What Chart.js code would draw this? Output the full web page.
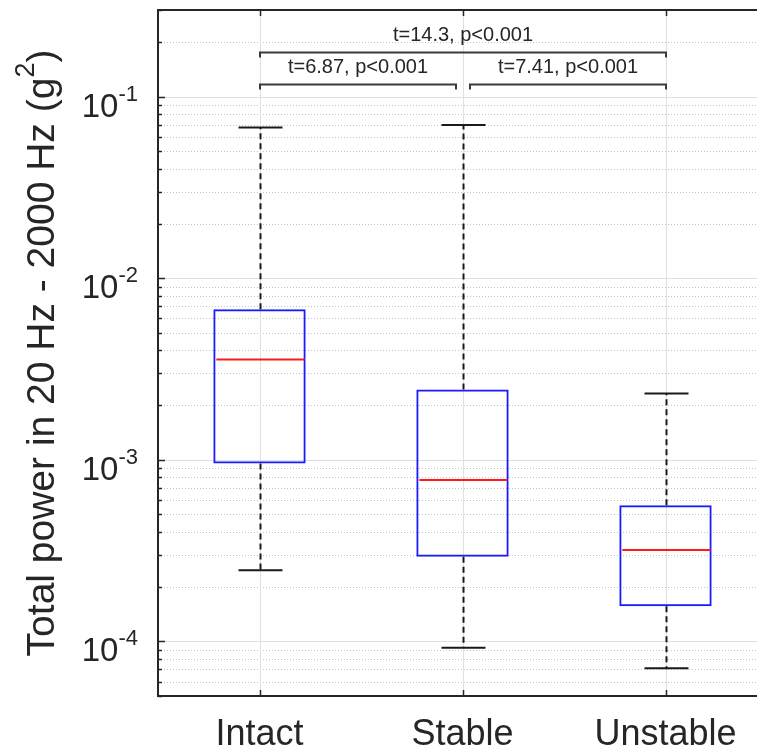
<!DOCTYPE html>
<html>
<head>
<meta charset="utf-8">
<script src="https://cdn.jsdelivr.net/npm/chart.js@4.4.0/dist/chart.umd.min.js"></script>
<style>
  html, body { margin: 0; padding: 0; background: #fff; overflow: hidden; }
  #wrap { width: 767px; height: 750px; }
</style>
</head>
<body>
<div id="wrap"><canvas id="myChart"></canvas></div>
<script>
// --- values (g^2) ---
const groups      = ['Intact', 'Stable', 'Unstable'];
const whiskerLow  = [0.000246, 0.0000923, 0.0000711];
const quartile1   = [0.000955, 0.000292, 0.000156];
const medians     = [0.00357, 0.000774, 0.000318];
const quartile3   = [0.00674, 0.00244, 0.000561];
const whiskerHigh = [0.0675, 0.0698, 0.00232];

// significance brackets
const bracketFrom  = [0, 1, 0];
const bracketTo    = [1, 2, 2];
const bracketLevel = [0.117, 0.117, 0.176];
const bracketText  = ['t=6.87, p<0.001', 't=7.41, p<0.001', 't=14.3, p<0.001'];

// axis
const yMin = 5e-5;
const yMax = 0.3;
const yDecades = [-4, -3, -2, -1];
const yTitleMain = 'Total power in 20 Hz - 2000 Hz (g';
const yTitleSup = '2';
const yTitleEnd = ')';

const INK = '#262626';
const FONT = '"Liberation Sans", Arial, Helvetica, sans-serif';

function seg(ctx, x1, y1, x2, y2) {
    ctx.beginPath();
    ctx.moveTo(x1, y1);
    ctx.lineTo(x2, y2);
    ctx.stroke();
}

// grid, whiskers, medians, brackets and the MATLAB-like axis labels
const boxPlotDecor = {
    id: 'boxPlotDecor',
    beforeDatasetsDraw(chart) {
        const { ctx, chartArea: a, scales: { x, y } } = chart;
        ctx.save();
        ctx.lineWidth = 1;

        // minor grid, dotted
        ctx.strokeStyle = '#c4c4c4';
        ctx.setLineDash([1, 2]);
        for (let e = -5; e <= -1; e++) {
            for (let m = 2; m <= 9; m++) {
                const v = m * Math.pow(10, e);
                if (v <= yMin * 1.001 || v >= yMax * 0.999) continue;
                const py = Math.round(y.getPixelForValue(v)) + 0.5;
                seg(ctx, a.left, py, a.right, py);
            }
        }

        // major grid, solid
        ctx.setLineDash([]);
        ctx.strokeStyle = '#e0e0e0';
        yDecades.forEach(e => {
            const py = Math.round(y.getPixelForValue(Math.pow(10, e))) + 0.5;
            seg(ctx, a.left, py, a.right, py);
        });
        groups.forEach((g, i) => {
            const px = Math.round(x.getPixelForValue(i)) + 0.5;
            seg(ctx, px, a.top, px, a.bottom);
        });
        ctx.restore();
    },
    afterDatasetsDraw(chart) {
        const { ctx, chartArea: a, scales: { x, y } } = chart;
        ctx.save();

        // whiskers
        groups.forEach((g, i) => {
            const px = Math.round(x.getPixelForValue(i)) + 0.5;
            const capHalf = 22;
            ctx.strokeStyle = '#1a1a1a';
            ctx.lineWidth = 2;
            ctx.setLineDash([6, 4]);
            seg(ctx, px, y.getPixelForValue(quartile3[i]), px, y.getPixelForValue(whiskerHigh[i]));
            seg(ctx, px, y.getPixelForValue(quartile1[i]), px, y.getPixelForValue(whiskerLow[i]));
            ctx.setLineDash([]);
            const hi = y.getPixelForValue(whiskerHigh[i]);
            const lo = y.getPixelForValue(whiskerLow[i]);
            seg(ctx, px - capHalf, hi, px + capHalf, hi);
            seg(ctx, px - capHalf, lo, px + capHalf, lo);

            // median
            const meta = chart.getDatasetMeta(0).data[i];
            const half = meta.width / 2 - 2;
            const my = y.getPixelForValue(medians[i]);
            ctx.strokeStyle = '#ff1a1a';
            ctx.lineWidth = 2;
            seg(ctx, px - half, my, px + half, my);
        });

        // top border and inward ticks
        ctx.strokeStyle = INK;
        ctx.lineWidth = 2;
        seg(ctx, a.left, a.top, a.right, a.top);
        ctx.lineWidth = 1.5;
        for (let e = -5; e <= -1; e++) {
            for (let m = 1; m <= 9; m++) {
                const v = m * Math.pow(10, e);
                if (v < yMin * 0.999 || v > yMax * 1.001) continue;
                const py = Math.round(y.getPixelForValue(v)) + 0.5;
                seg(ctx, a.left, py, a.left + (m === 1 ? 7 : 4), py);
            }
        }
        groups.forEach((g, i) => {
            const px = Math.round(x.getPixelForValue(i)) + 0.5;
            seg(ctx, px, a.bottom, px, a.bottom - 6);
            seg(ctx, px, a.top, px, a.top + 6);
        });

        // y tick labels 10^n
        ctx.fillStyle = INK;
        ctx.textBaseline = 'alphabetic';
        ctx.textAlign = 'left';
        yDecades.forEach(e => {
            const py = y.getPixelForValue(Math.pow(10, e));
            const expText = '-' + Math.abs(e);
            ctx.font = '22px ' + FONT;
            const ew = ctx.measureText(expText).width;
            ctx.font = '33px ' + FONT;
            const bw = ctx.measureText('10').width;
            const right = a.left - 20;
            ctx.fillText('10', right - ew - bw, py + 20);
            ctx.font = '22px ' + FONT;
            ctx.fillText(expText, right - ew, py + 4);
        });

        // x labels
        ctx.font = '36px ' + FONT;
        ctx.textAlign = 'center';
        groups.forEach((g, i) => {
            ctx.fillText(g, x.getPixelForValue(i), 745);
        });

        // y title with superscript
        ctx.save();
        ctx.translate(54, (a.top + a.bottom) / 2);
        ctx.rotate(-Math.PI / 2);
        ctx.textAlign = 'left';
        ctx.font = '39px ' + FONT;
        const w1 = ctx.measureText(yTitleMain).width;
        const w3 = ctx.measureText(yTitleEnd).width;
        ctx.font = '27px ' + FONT;
        const w2 = ctx.measureText(yTitleSup).width;
        let tx = -(w1 + w2 + w3) / 2;
        ctx.font = '39px ' + FONT;
        ctx.fillText(yTitleMain, tx, 0);
        tx += w1;
        ctx.font = '27px ' + FONT;
        ctx.fillText(yTitleSup, tx, -20);
        tx += w2;
        ctx.font = '39px ' + FONT;
        ctx.fillText(yTitleEnd, tx, 0);
        ctx.restore();

        // significance brackets
        ctx.strokeStyle = '#3a3a3a';
        ctx.lineWidth = 2;
        ctx.font = '20px ' + FONT;
        ctx.textAlign = 'center';
        bracketText.forEach((label, k) => {
            // pull in ends that meet a neighbouring bracket at the same level
            let insetL = 0, insetR = 0;
            bracketText.forEach((o, j) => {
                if (j === k || bracketLevel[j] !== bracketLevel[k]) return;
                if (bracketTo[j] === bracketFrom[k]) insetL = 7;
                if (bracketFrom[j] === bracketTo[k]) insetR = 7;
            });
            const x1 = Math.round(x.getPixelForValue(bracketFrom[k])) + insetL;
            const x2 = Math.round(x.getPixelForValue(bracketTo[k])) - insetR;
            const by = Math.round(y.getPixelForValue(bracketLevel[k])) + 0.5;
            ctx.beginPath();
            ctx.moveTo(x1, by + 5);
            ctx.lineTo(x1, by);
            ctx.lineTo(x2, by);
            ctx.lineTo(x2, by + 5);
            ctx.stroke();
            ctx.fillText(label, (x1 + x2) / 2, by - 12);
        });

        ctx.restore();
    }
};

function renderChart() {
    const ctx = document.getElementById('myChart').getContext('2d');

    const chartConfig = {
        type: 'bar',
        data: {
            labels: groups,
            datasets: [{
                data: groups.map((g, i) => [quartile1[i], quartile3[i]]),
                backgroundColor: 'rgba(0,0,0,0)',
                borderColor: '#1a1aff',
                borderWidth: 2,
                borderSkipped: false,
                barPercentage: 0.455,
                categoryPercentage: 1
            }]
        },
        options: {
            responsive: true,
            maintainAspectRatio: false,
            animation: false,
            layout: { padding: { top: 10, left: 0, right: 0, bottom: 0 } },
            plugins: {
                legend: { display: false },
                tooltip: { enabled: false }
            },
            scales: {
                x: {
                    grid: { display: false },
                    ticks: { display: false },
                    border: { color: INK, width: 2 },
                    afterFit: scale => { scale.height = 54; }
                },
                y: {
                    type: 'logarithmic',
                    min: yMin,
                    max: yMax,
                    grid: { display: false },
                    ticks: { display: false },
                    border: { color: INK, width: 2 },
                    afterFit: scale => { scale.width = 158; }
                }
            }
        },
        plugins: [boxPlotDecor]
    };

    new Chart(ctx, chartConfig);
}

renderChart();
</script>
</body>
</html>
